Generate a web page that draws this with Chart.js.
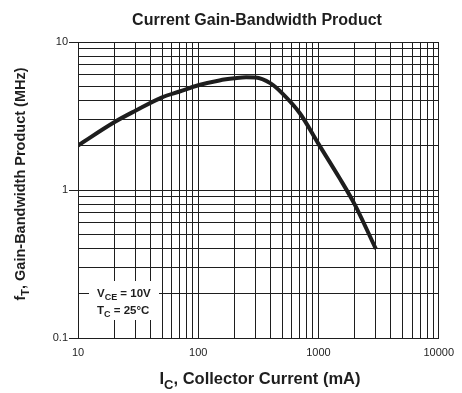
<!DOCTYPE html>
<html>
<head>
<meta charset="utf-8">
<script src="https://cdn.jsdelivr.net/npm/chart.js@4/dist/chart.umd.min.js"></script>
<style>
  html, body { margin: 0; padding: 0; background: #fff; }
  #wrap { width: 462px; height: 393px; }
</style>
</head>
<body>
<div id="wrap"><canvas id="chart"></canvas></div>
<script>
// collector current (mA) and fT (MHz)
const currents = [10, 20, 30, 50, 70, 100, 150, 200, 250, 300, 400, 500, 700, 1000, 1500, 2000, 3000]
const gainBandwidth = [2.0, 2.87, 3.43, 4.23, 4.63, 5.1, 5.5, 5.68, 5.77, 5.76, 5.25, 4.5, 3.3, 2.05, 1.2, 0.8, 0.4]

// grid lines, 1..9 per decade
const xGrid = [10, 20, 30, 40, 50, 60, 70, 80, 90, 100, 200, 300, 400, 500, 600, 700, 800, 900,
    1000, 2000, 3000, 4000, 5000, 6000, 7000, 8000, 9000, 10000]
const yGrid = [0.1, 0.2, 0.3, 0.4, 0.5, 0.6, 0.7, 0.8, 0.9, 1, 2, 3, 4, 5, 6, 7, 8, 9, 10]
const xLabels = ['10', '100', '1000', '10000']
const yLabels = ['0.1', '1', '10']

const FONT = '"Liberation Sans", Arial, sans-serif'
const INK = '#1e1e1e'

const isDecade = v => Math.abs(Math.log10(v) - Math.round(Math.log10(v))) < 1e-9

// draws text with a subscript part: parts = [[text, sub?], ...]
function drawRich(ctx, parts, size, x, y, align) {
    const subSize = Math.round(size * 0.78)
    let width = 0
    parts.forEach(([t, sub]) => {
        ctx.font = 'bold ' + (sub ? subSize : size) + 'px ' + FONT
        width += ctx.measureText(t).width
    })
    let cx = align === 'center' ? x - width / 2 : x
    parts.forEach(([t, sub]) => {
        ctx.font = 'bold ' + (sub ? subSize : size) + 'px ' + FONT
        ctx.fillText(t, cx, sub ? y + size * 0.3 : y)
        cx += ctx.measureText(t).width
    })
}

const labelsPlugin = {
    id: 'labels',
    afterDatasetsDraw(chart) {
        const ctx = chart.ctx
        ctx.save()
        ctx.fillStyle = INK
        ctx.textBaseline = 'alphabetic'
        ctx.textAlign = 'left'

        // title
        ctx.font = 'bold 16px ' + FONT
        ctx.textAlign = 'center'
        ctx.fillText('Current Gain-Bandwidth Product', 257, 25)
        ctx.textAlign = 'left'

        // x axis title
        drawRich(ctx, [['I', false], ['C', true], [', Collector Current (mA)', false]], 16.5, 260, 384, 'center')

        // y axis title
        ctx.save()
        ctx.translate(25, 184)
        ctx.rotate(-Math.PI / 2)
        drawRich(ctx, [['f', false], ['T', true], [', Gain-Bandwidth Product (MHz)', false]], 14.5, 0, 0, 'center')
        ctx.restore()

        // conditions box
        ctx.fillStyle = '#fff'
        ctx.fillRect(89, 281, 70, 39)
        ctx.fillStyle = INK
        drawRich(ctx, [['V', false], ['CE', true], [' = 10V', false]], 11.5, 97, 297, 'left')
        drawRich(ctx, [['T', false], ['C', true], [' = 25°C', false]], 11.5, 97, 314, 'left')
        ctx.restore()
    }
}

new Chart(document.getElementById('chart'), {
    type: 'line',
    data: {
        datasets: [{
            data: currents.map((c, i) => ({ x: c, y: gainBandwidth[i] })),
            borderColor: INK,
            borderWidth: 4,
            pointRadius: 0,
            cubicInterpolationMode: 'monotone',
            fill: false
        }]
    },
    options: {
        responsive: true,
        maintainAspectRatio: false,
        animation: false,
        layout: { padding: { left: 0, top: 42, right: 19, bottom: 0 } },
        plugins: {
            legend: { display: false },
            tooltip: { enabled: false }
        },
        scales: {
            x: {
                type: 'logarithmic',
                min: 10,
                max: 10000,
                afterBuildTicks: scale => { scale.ticks = xGrid.map(v => ({ value: v })) },
                afterFit: scale => { scale.height = 55 },
                border: { display: true, color: INK, width: 1 },
                grid: { color: INK, lineWidth: 1, drawTicks: false },
                ticks: {
                    autoSkip: false,
                    maxRotation: 0,
                    padding: 8,
                    color: INK,
                    font: { family: FONT, size: 11 },
                    callback: v => isDecade(v) ? xLabels[Math.round(Math.log10(v)) - 1] : ''
                }
            },
            y: {
                type: 'logarithmic',
                min: 0.1,
                max: 10,
                afterBuildTicks: scale => { scale.ticks = yGrid.map(v => ({ value: v })) },
                afterFit: scale => { scale.width = 78 },
                border: { display: true, color: INK, width: 1 },
                grid: {
                    color: INK,
                    lineWidth: 1,
                    tickLength: 9,
                    tickColor: c => (c.tick && isDecade(c.tick.value)) ? INK : 'rgba(0,0,0,0)'
                },
                ticks: {
                    autoSkip: false,
                    padding: 1,
                    color: INK,
                    font: { family: FONT, size: 11 },
                    callback: v => isDecade(v) ? yLabels[Math.round(Math.log10(v)) + 1] : ''
                }
            }
        }
    },
    plugins: [labelsPlugin]
})
</script>
</body>
</html>
